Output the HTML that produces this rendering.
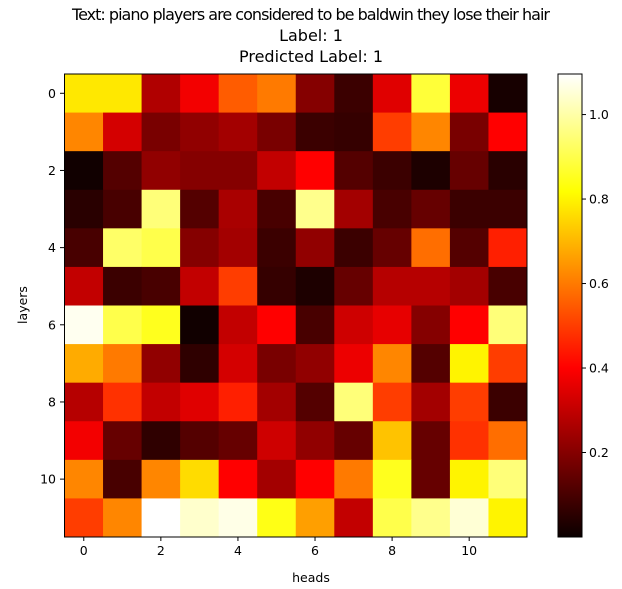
<!DOCTYPE html>
<html><head><meta charset="utf-8"><style>
body{margin:0;background:#fff}
svg{display:block;font-family:"DejaVu Sans","Liberation Sans",sans-serif}
</style></head><body>
<svg id="chart" width="622" height="589">
<defs><linearGradient id="hot" x1="0" y1="1" x2="0" y2="0">
<stop offset="0" stop-color="#0b0000"/><stop offset="0.365" stop-color="#ff0000"/>
<stop offset="0.746" stop-color="#ffff00"/><stop offset="1" stop-color="#ffffff"/>
</linearGradient></defs>
<text x="311" y="20" text-anchor="middle" font-size="16" textLength="478">Text: piano players are considered to be baldwin they lose their hair</text>
<text x="311" y="41" text-anchor="middle" font-size="16">Label: 1</text>
<text x="311" y="62" text-anchor="middle" font-size="16">Predicted Label: 1</text>
<g id="cells"></g>
<rect x="64.5" y="74" width="462.5" height="463" fill="none" stroke="#000" stroke-width="1"/>
<g id="ticks" font-size="12.5"></g>
<text x="311" y="582" text-anchor="middle" font-size="12.5">heads</text>
<text transform="translate(27,305) rotate(-90)" text-anchor="middle" font-size="12.5">layers</text>
<rect x="558" y="74" width="24" height="463" fill="url(#hot)" stroke="#000" stroke-width="1"/>
<g id="cbticks" font-size="12.5"></g>
</svg>
<script>
const heads=[0,1,2,3,4,5,6,7,8,9,10,11];
const layers=[0,1,2,3,4,5,6,7,8,9,10,11];
const xTicks=[0,2,4,6,8,10];
const yTicks=[0,2,4,6,8,10];
const cbTicks=[0.2,0.4,0.6,0.8,1.0];
const values=[
[0.78,0.78,0.27,0.38,0.55,0.6,0.2,0.08,0.35,0.88,0.37,0.02],
[0.62,0.33,0.18,0.22,0.25,0.18,0.08,0.07,0.5,0.62,0.18,0.4],
[0.01,0.12,0.22,0.2,0.2,0.3,0.4,0.12,0.08,0.03,0.15,0.05],
[0.05,0.1,0.95,0.12,0.26,0.1,0.97,0.25,0.1,0.15,0.08,0.08],
[0.1,0.93,0.9,0.2,0.25,0.08,0.22,0.08,0.15,0.58,0.12,0.45],
[0.3,0.08,0.1,0.3,0.5,0.07,0.03,0.15,0.28,0.28,0.25,0.1],
[1.08,0.9,0.85,0.01,0.3,0.4,0.1,0.32,0.36,0.2,0.4,0.95],
[0.68,0.6,0.22,0.06,0.33,0.18,0.22,0.37,0.62,0.12,0.8,0.5],
[0.28,0.48,0.3,0.35,0.45,0.25,0.12,0.95,0.5,0.25,0.5,0.08],
[0.38,0.15,0.06,0.12,0.15,0.32,0.22,0.15,0.72,0.15,0.48,0.58],
[0.62,0.1,0.62,0.76,0.4,0.25,0.4,0.6,0.85,0.15,0.8,0.95],
[0.5,0.62,1.1,1.04,1.07,0.84,0.66,0.3,0.9,0.97,1.05,0.8]];
const vmin=0.0,vmax=1.096;
const X0=64.5,Y0=74,W=462.5,H=463,n=12;
const cw=W/n,ch=H/n;
const xs=i=>X0+i*cw, ys=j=>Y0+j*ch;
const cby=v=>537-(v-vmin)/(vmax-vmin)*463;
function hot(v){let t=Math.max(0,Math.min(1,(v-vmin)/(vmax-vmin)));
 const r=Math.min(1,0.0416+t/0.365*(1-0.0416));const g=t<0.365?0:Math.min(1,(t-0.365)/0.381);const b=t<0.746?0:(t-0.746)/0.254;
 return `rgb(${Math.round(r*255)},${Math.round(g*255)},${Math.round(b*255)})`;}
const NS="http://www.w3.org/2000/svg";
const cells=document.getElementById('cells');
layers.forEach((l,j)=>heads.forEach((h,i)=>{
 const r=document.createElementNS(NS,'rect');
 r.setAttribute('x',xs(i));r.setAttribute('y',ys(j));r.setAttribute('width',cw+0.5);r.setAttribute('height',ch+0.5);
 r.setAttribute('fill',hot(values[j][i]));
 
 
 cells.appendChild(r);}));
const tk=document.getElementById('ticks');
function line(x1,y1,x2,y2,g){const l=document.createElementNS(NS,'line');l.setAttribute('x1',x1);l.setAttribute('y1',y1);l.setAttribute('x2',x2);l.setAttribute('y2',y2);l.setAttribute('stroke','#000');g.appendChild(l);return l;}
function txt(x,y,s,anchor,g){const t=document.createElementNS(NS,'text');t.setAttribute('x',x);t.setAttribute('y',y);t.setAttribute('text-anchor',anchor);t.textContent=s;g.appendChild(t);return t;}
xTicks.forEach(v=>{const x=xs(v)+cw/2;line(x,537,x,541,tk);
 const t=txt(x,555,String(v),'middle',tk);
 
 });
yTicks.forEach(v=>{const y=ys(v)+ch/2;line(60,y,64.5,y,tk);
 const t=txt(56,y+4.5,String(v),'end',tk);
 
 });
const cb=document.getElementById('cbticks');
cbTicks.forEach(v=>{const y=cby(v);line(582,y,586,y,cb);
 const t=txt(589,y+4.5,v.toFixed(1),'start',cb);
 
 });
</script>
</body></html>
